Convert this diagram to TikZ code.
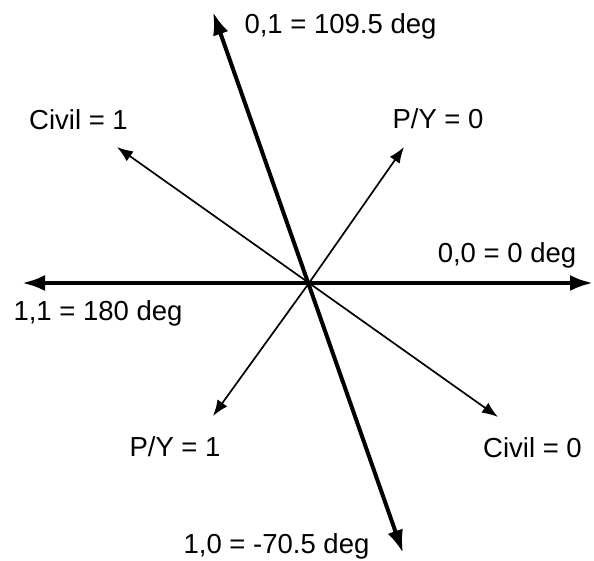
\documentclass[tikz,border=0pt]{standalone}
\usepackage{fontspec}
\setmainfont{Liberation Sans}
\usetikzlibrary{arrows.meta}
\tikzset{
  lbl/.style={anchor=base, inner sep=0pt, font=\fontsize{27.5}{30}\selectfont},
  bigarrow/.style={line width=4pt, {Latex[length=23pt,width=16pt]}-{Latex[length=23pt,width=16pt]}},
  smallarrow/.style={line width=1.7pt, -{Latex[length=16pt,width=12pt]}}
}
\begin{document}
\begin{tikzpicture}[x=1pt,y=-1pt]
\useasboundingbox (0,0) rectangle (594,560);
\coordinate (o) at (309,283);
\coordinate (w) at (22,283);
\coordinate (e) at (593,283);
\coordinate (n) at (213,12);
\coordinate (s) at (403,553);
\coordinate (c1) at (117,147);
\coordinate (py0) at (404,147);
\coordinate (py1) at (213,416);
\coordinate (c0) at (498,417);
\draw[bigarrow] (w) -- (e);
\draw[bigarrow] (n) -- (s);
\draw[smallarrow] (o) -- (c1);
\draw[smallarrow] (o) -- (py0);
\draw[smallarrow] (o) -- (py1);
\draw[smallarrow] (o) -- (c0);
\node[lbl] (t01) at (340.5,33) {0,1 = 109.5 deg};
\node[lbl] (tc1) at (78.5,129) {Civil = 1};
\node[lbl] (tpy0) at (438,128) {P/Y = 0};
\node[lbl] (t11) at (98,320) {1,1 = 180 deg};
\node[lbl] (t00) at (507,262) {0,0 = 0 deg};
\node[lbl] (tpy1) at (175,456) {P/Y = 1};
\node[lbl] (tc0) at (532.5,457) {Civil = 0};
\node[lbl] (t10) at (276.5,553) {1,0 = -70.5 deg};
\end{tikzpicture}
\end{document}
